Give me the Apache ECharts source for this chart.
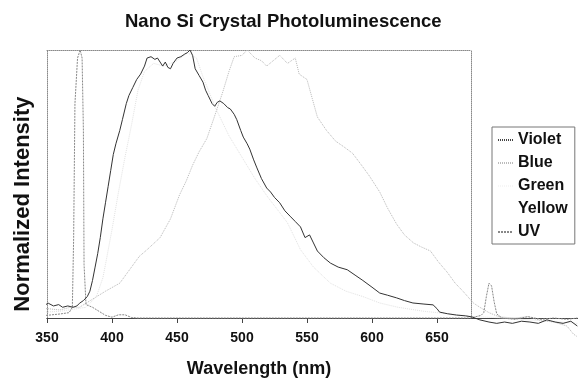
<!DOCTYPE html>
<html>
<head>
<meta charset="utf-8">
<script src="https://cdn.jsdelivr.net/npm/echarts@6/dist/echarts.min.js"></script>
<style>
  html, body { margin: 0; padding: 0; background: #fff; }
  #chart { width: 578px; height: 385px; }
</style>
</head>
<body>
<div id="chart"></div>
<script>
// wavelength (nm), normalized intensity
const violet = [
  [339, 0.037], [343, 0.05], [347, 0.045], [351, 0.055], [355, 0.045], [359, 0.05], [362, 0.04],
  [366, 0.045], [370, 0.04], [373, 0.045], [375, 0.055], [378, 0.065], [381, 0.08], [383, 0.1],
  [385, 0.14], [387, 0.19], [389, 0.24], [391, 0.3], [393, 0.37], [395, 0.43], [397, 0.49],
  [399, 0.55], [401, 0.61], [403, 0.65], [406, 0.7], [408, 0.74], [411, 0.8], [413, 0.83],
  [416, 0.86], [419, 0.89], [422, 0.91], [425, 0.94], [427, 0.97], [430, 0.975], [433, 0.965],
  [435, 0.97], [437, 0.955], [439, 0.94], [441, 0.955], [443, 0.935], [445, 0.93], [447, 0.95],
  [450, 0.97], [453, 0.975], [456, 0.985], [458, 0.99], [460, 1.0], [462, 0.98], [464, 0.93],
  [467, 0.905], [470, 0.88], [472, 0.85], [474, 0.83], [477, 0.8], [479, 0.79], [481, 0.805],
  [483, 0.81], [486, 0.8], [489, 0.785], [491, 0.78], [494, 0.76], [496, 0.74], [499, 0.7],
  [501, 0.675], [504, 0.65], [506, 0.63], [509, 0.59], [511.5, 0.56], [515, 0.52], [519, 0.485],
  [522, 0.47], [525, 0.45], [529, 0.43], [533, 0.4], [537, 0.38], [541, 0.36], [545, 0.34],
  [548.5, 0.3], [552, 0.31], [555, 0.28], [558, 0.25], [563, 0.225], [568, 0.205], [574, 0.19],
  [581, 0.18], [587, 0.16], [593, 0.14], [600, 0.115], [606, 0.093], [612, 0.085], [619, 0.075],
  [625, 0.065], [631.5, 0.056], [640, 0.052], [647, 0.049], [650, 0.035], [652, 0.022],
  [658, 0.016], [665, 0.011], [672, 0.008], [677, 0.004], [683, -0.007], [690, -0.015],
  [696, -0.02], [702, -0.015], [708, -0.02], [715, -0.012], [721.5, -0.015], [728, -0.02],
  [734.6, -0.007], [741, -0.015], [747, -0.02], [753, -0.012], [758, -0.03]
];

const blue = [
  [340, 0.03], [350, 0.035], [360, 0.03], [368, 0.04], [375, 0.04], [385, 0.07], [395, 0.1],
  [406, 0.13], [415, 0.19], [421, 0.23], [427, 0.255], [437, 0.3], [445, 0.37], [452, 0.46],
  [457, 0.51], [462, 0.57], [467, 0.62], [473, 0.67], [478, 0.74], [485, 0.84], [490, 0.92],
  [494, 0.975], [500, 0.98], [504, 1.0], [510, 0.97], [515, 0.96], [519, 0.94], [524, 0.96],
  [529, 0.98], [535, 0.95], [541, 0.97], [544, 0.91], [550, 0.89], [554, 0.82], [558, 0.75],
  [565, 0.7], [572, 0.66], [578, 0.64], [585, 0.615], [592, 0.57], [598, 0.53], [606, 0.47],
  [612, 0.41], [619, 0.35], [625, 0.31], [632, 0.28], [638, 0.265], [645, 0.25], [651, 0.21],
  [658, 0.17], [664, 0.13], [670, 0.1], [678, 0.056], [683, 0.04], [690, 0.02], [698, 0.004],
  [710, 0.0], [720, 0.005], [730, -0.01], [740, -0.015], [750, -0.03], [755, -0.06], [758, -0.07]
];

const green = [
  [340, 0.02], [360, 0.025], [380, 0.04], [388, 0.08], [393, 0.15], [395, 0.2], [400, 0.33],
  [405, 0.47], [410, 0.6], [415, 0.72], [420, 0.85], [425, 0.92], [432, 0.95], [440, 0.94],
  [450, 0.96], [458, 0.99], [465, 0.97], [470, 0.9], [480, 0.78], [490, 0.68], [500, 0.6],
  [510, 0.52], [520, 0.45], [528, 0.4], [535, 0.355], [545, 0.255], [555, 0.19], [568, 0.13],
  [580, 0.1], [593, 0.08], [606, 0.056], [620, 0.04], [640, 0.025], [660, 0.015], [680, 0.005],
  [700, 0.0], [730, -0.01], [758, -0.02]
];

const yellow = [];

const uv = [
  [340, 0.01], [350, 0.01], [360, 0.015], [367, 0.02], [369.5, 0.04], [370.5, 0.3], [371.5, 0.8],
  [373.5, 0.97], [375.5, 1.0], [377, 0.97], [378, 0.7], [378.5, 0.2], [380, 0.05], [385, 0.04],
  [390, 0.025], [395, 0.01], [400, 0.003], [405, 0.012], [410, 0.012], [415, 0.002], [420, 0.0],
  [500, 0.0], [600, 0.0], [676, 0.0], [684, 0.01], [686, 0.02], [688, 0.08], [690, 0.13],
  [692, 0.12], [694, 0.06], [696, 0.015], [700, 0.0], [710, -0.005], [720, 0.005], [730, -0.005],
  [740, 0.0], [750, -0.005], [758, 0.0]
];

const tickLabels = [350, 400, 450, 500, 550, 600, 650];

const chart = echarts.init(document.getElementById('chart'), null, { renderer: 'canvas' });

const font = 'Liberation Sans, Arial, sans-serif';
const boxLine = { show: true, onZero: false, lineStyle: { color: '#8a8a8a', type: [1, 1], width: 1 } };

const option = {
  animation: false,
  backgroundColor: '#fff',
  title: {
    text: 'Nano Si Crystal Photoluminescence',
    left: 125,
    top: 12,
    padding: 0,
    textStyle: { fontFamily: font, fontSize: 18.5, fontWeight: 'bold', color: '#111' }
  },
  legend: {
    orient: 'vertical',
    left: 492,
    top: 127,
    padding: [5, 7, 4, 5],
    itemGap: 7,
    itemWidth: 15,
    itemHeight: 14,
    borderColor: '#777',
    borderWidth: 1,
    itemStyle: { opacity: 0 },
    textStyle: { fontFamily: font, fontSize: 16, fontWeight: 'bold', color: '#111', lineHeight: 16 },
    data: [
      { name: 'Violet', lineStyle: { color: '#444', type: [1, 1] } },
      { name: 'Blue', lineStyle: { color: '#bbb', type: [1, 1] } },
      { name: 'Green', lineStyle: { color: '#f6f6f6', type: [1, 1] } },
      { name: 'Yellow', lineStyle: { color: '#fff', type: [1, 1] } },
      { name: 'UV', lineStyle: { color: '#888', type: [2, 1] } }
    ]
  },
  grid: [
    // data area
    { left: 47, right: 0, top: 50, bottom: 26.8 },
    // dotted frame with the wavelength ticks
    { left: 47, width: 424, top: 50, height: 268 }
  ],
  xAxis: [
    {
      gridIndex: 0, type: 'value', min: 350, max: 758.5,
      axisLine: { show: true, onZero: true, lineStyle: { color: '#444', width: 1 } },
      axisTick: { show: false }, axisLabel: { show: false }, splitLine: { show: false }
    },
    {
      gridIndex: 1, type: 'value', min: 350, max: 676.15, position: 'bottom',
      name: 'Wavelength (nm)', nameLocation: 'middle', nameGap: 42,
      nameTextStyle: { fontFamily: font, fontSize: 18, fontWeight: 'bold', color: '#111' },
      axisLine: { show: true, onZero: false, lineStyle: { color: '#444', width: 1 } },
      axisTick: { show: true, length: 5, customValues: tickLabels, lineStyle: { color: '#444' } },
      axisLabel: {
        customValues: tickLabels, margin: 13,
        fontFamily: font, fontSize: 14, fontWeight: 'bold', color: '#111'
      },
      splitLine: { show: false }
    },
    {
      gridIndex: 1, type: 'value', min: 350, max: 676.15, position: 'top',
      axisLine: boxLine, axisTick: { show: false }, axisLabel: { show: false }, splitLine: { show: false }
    }
  ],
  yAxis: [
    {
      gridIndex: 0, type: 'value', min: -0.15, max: 1,
      name: 'Normalized Intensity', nameLocation: 'middle', nameGap: 13, nameRotate: 90,
      nameTextStyle: { fontFamily: font, fontSize: 22, fontWeight: 'bold', color: '#111' },
      axisLine: { show: false }, axisTick: { show: false }, axisLabel: { show: false }, splitLine: { show: false }
    },
    {
      gridIndex: 1, type: 'value', min: 0, max: 1, position: 'left',
      axisLine: boxLine, axisTick: { show: false }, axisLabel: { show: false }, splitLine: { show: false }
    },
    {
      gridIndex: 1, type: 'value', min: 0, max: 1, position: 'right',
      axisLine: boxLine, axisTick: { show: false }, axisLabel: { show: false }, splitLine: { show: false }
    }
  ],
  series: [
    {
      name: 'Blue', type: 'line', data: blue, symbol: 'none', clip: false,
      xAxisIndex: 0, yAxisIndex: 0, color: '#bbb',
      lineStyle: { color: '#b8b8b8', width: 1, type: [1, 1] }
    },
    {
      name: 'Green', type: 'line', data: green, symbol: 'none', clip: false,
      xAxisIndex: 0, yAxisIndex: 0, color: '#e2e2e2',
      lineStyle: { color: '#e2e2e2', width: 1, type: [1, 1] }
    },
    {
      name: 'Yellow', type: 'line', data: yellow, symbol: 'none', clip: false,
      xAxisIndex: 0, yAxisIndex: 0, color: '#fff',
      lineStyle: { color: '#fff', width: 1 }
    },
    {
      name: 'UV', type: 'line', data: uv, symbol: 'none', clip: false,
      xAxisIndex: 0, yAxisIndex: 0, color: '#888',
      lineStyle: { color: '#888', width: 1, type: [2, 1] }
    },
    {
      name: 'Violet', type: 'line', data: violet, symbol: 'none', clip: false,
      xAxisIndex: 0, yAxisIndex: 0, color: '#333',
      lineStyle: { color: '#333', width: 1 }
    }
  ]
};

chart.setOption(option);
</script>
</body>
</html>
